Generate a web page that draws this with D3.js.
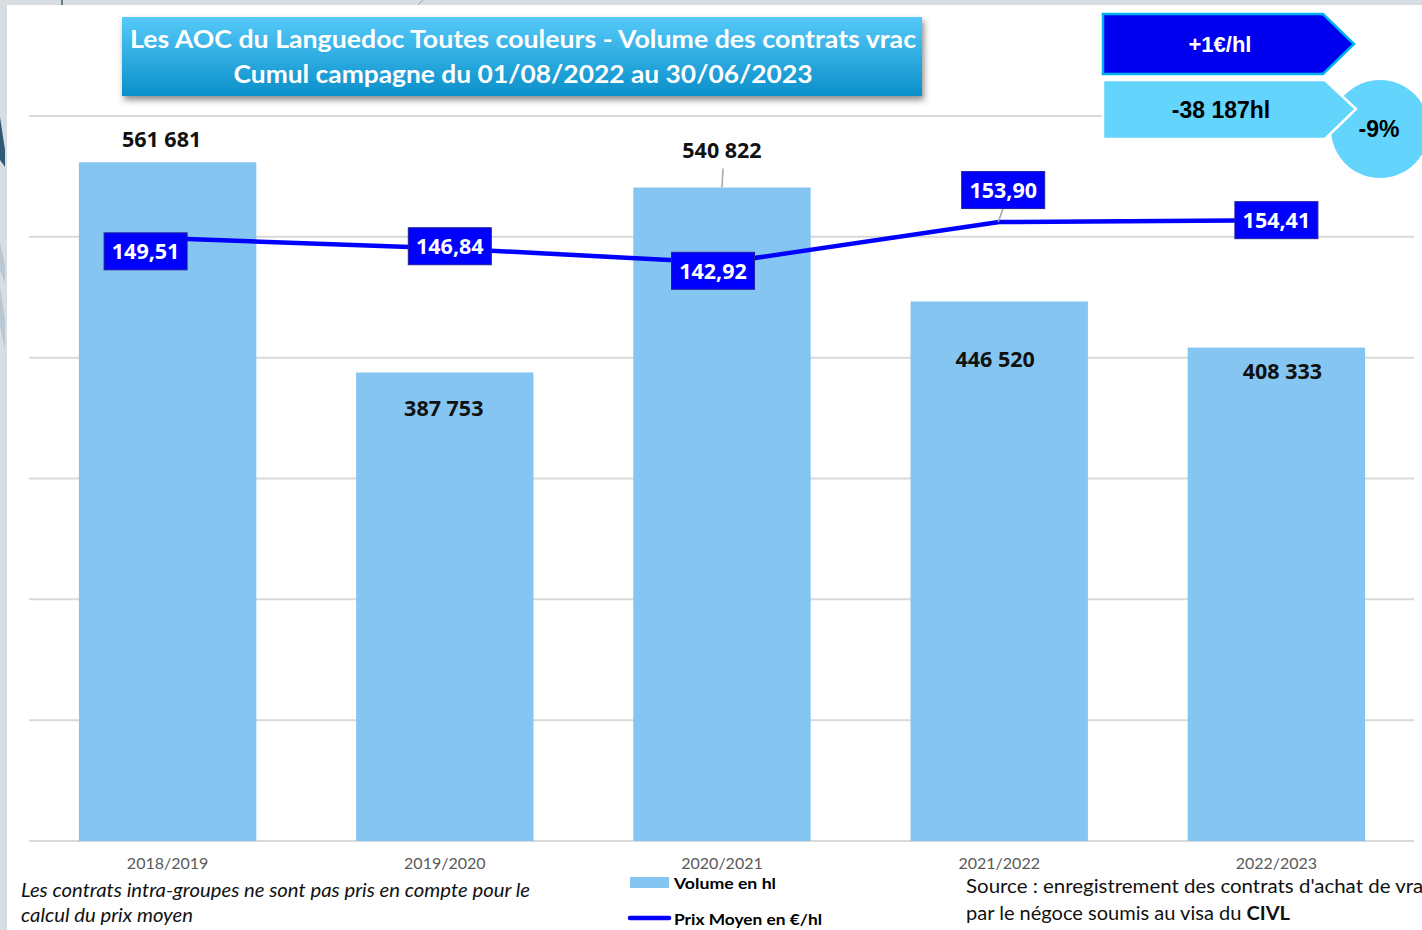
<!DOCTYPE html>
<html><head><meta charset="utf-8">
<script src="https://cdn.jsdelivr.net/npm/d3@7"></script>
<style>body{margin:0;background:#fff;overflow:hidden} svg{display:block}</style>
</head><body><svg id="c" width="1422" height="930"></svg>
<script>
// ---------- data ----------
const categories = ["2018/2019", "2019/2020", "2020/2021", "2021/2022", "2022/2023"];
const volumes = [561681, 387753, 540822, 446520, 408333];
const prices = [149.51, 146.84, 142.92, 153.90, 154.41];
const volumeTicks = [0, 100000, 200000, 300000, 400000, 500000, 600000];
const titleLines = ["Les AOC du Languedoc Toutes couleurs - Volume des contrats vrac",
                    "Cumul campagne du 01/08/2022 au 30/06/2023"];
const legendLabels = ["Volume en hl", "Prix Moyen en €/hl"];
const priceDelta = "+1€/hl";
const volumeDelta = "-38 187hl";
const volumeDeltaPct = "-9%";
const noteLines = ["Les contrats intra-groupes ne sont pas pris en compte pour le", "calcul du prix moyen"];

// ---------- layout (not data) ----------
const volNudge = [[-6, -23], [-1, 36], [0, -37], [-4, 58], [6, 24]];
const priceNudge = [[-22, 13], [5, -2], [-9, 8], [4, -32], [0, 0]];

const svg = d3.select("#c");
const fr = d3.formatLocale({decimal: ",", thousands: " ", grouping: [3], currency: ["", "€"]});
const fmtVol = fr.format(",d");
const fmtPrice = fr.format(".2f");

const defs = svg.append("defs");
const g1 = defs.append("linearGradient").attr("id", "tg").attr("x1", 0).attr("y1", 0).attr("x2", 0).attr("y2", 1);
g1.append("stop").attr("offset", "0%").attr("stop-color", "#56caf9");
g1.append("stop").attr("offset", "100%").attr("stop-color", "#0a8fc9");
const f = defs.append("filter").attr("id", "sh").attr("x", "-5%").attr("y", "-20%").attr("width", "115%").attr("height", "150%");
f.append("feDropShadow").attr("dx", 2).attr("dy", 4).attr("stdDeviation", 3).attr("flood-color", "#000").attr("flood-opacity", 0.45);

// background frame
svg.append("rect").attr("width", 1422).attr("height", 930).attr("fill", "#d7dde1");
svg.append("rect").attr("x", 7).attr("y", 5).attr("width", 1415).attr("height", 925).attr("fill", "#ffffff");
svg.append("line").attr("x1", 62).attr("x2", 62).attr("y1", 0).attr("y2", 5).attr("stroke", "#3d5a6e").attr("stroke-width", 1.5);
svg.append("line").attr("x1", 418).attr("x2", 423).attr("y1", 5).attr("y2", 0).attr("stroke", "#9aa8b2").attr("stroke-width", 1);
svg.append("polygon").attr("points", "0,117 5,150 5,167 0,160").attr("fill", "#2f5a76");
svg.append("polygon").attr("points", "0,243 5,265 5,283 0,270").attr("fill", "#b8c7d1");
svg.append("polygon").attr("points", "0,287 5,320 5,350 0,325").attr("fill", "#b8c7d1");

// scales
const x = d3.scaleBand().domain(categories).range([29, 1415]).paddingInner(0.36).paddingOuter(0.18);
const y = d3.scaleLinear().domain([0, 600000]).range([841, 116]);
const y2 = d3.scaleLinear().domain([-13, 182.5]).range([841, 116]);

// gridlines
svg.append("g").selectAll("line").data(volumeTicks).join("line")
  .attr("x1", 29).attr("x2", 1414).attr("y1", d => y(d)).attr("y2", d => y(d))
  .attr("stroke", "#d9d9d9").attr("stroke-width", 2);

// bars
svg.append("g").selectAll("rect").data(volumes).join("rect")
  .attr("x", (d, i) => x(categories[i])).attr("width", x.bandwidth())
  .attr("y", d => y(d)).attr("height", d => y(0) - y(d))
  .attr("fill", "#85c5f2");

// x-axis labels
const xAxis = svg.append("g").attr("transform", "translate(0,841)")
  .call(d3.axisBottom(x).tickSize(0).tickPadding(17));
xAxis.select(".domain").remove();
xAxis.selectAll("text").attr("font-family", "Lato, sans-serif").attr("font-size", 16).attr("fill", "#595959");

// volume labels
const cx = i => x(categories[i]) + x.bandwidth() / 2;
svg.append("line").attr("x1", cx(2) + 1).attr("x2", cx(2)).attr("y1", y(volumes[2]) + volNudge[2][1] + 18).attr("y2", y(volumes[2]))
  .attr("stroke", "#a6a6a6").attr("stroke-width", 1.5);
svg.append("g").selectAll("text").data(volumes).join("text")
  .attr("x", (d, i) => cx(i) + volNudge[i][0]).attr("y", (d, i) => y(d) + volNudge[i][1])
  .attr("dy", "0.36em").attr("text-anchor", "middle")
  .attr("font-family", "Open Sans, sans-serif").attr("font-weight", 700).attr("font-size", 21.5)
  .attr("fill", "#111").text(d => fmtVol(d));

// price line
const line = d3.line().x((d, i) => cx(i)).y(d => y2(d));
svg.append("path").datum(prices).attr("d", line).attr("fill", "none")
  .attr("stroke", "#0000ff").attr("stroke-width", 4.5).attr("stroke-linejoin", "round");

// leader for 153,90
svg.append("line").attr("x1", cx(3) - 1).attr("y1", y2(prices[3])).attr("x2", cx(3) + priceNudge[3][0]).attr("y2", y2(prices[3]) + priceNudge[3][1] + 18)
  .attr("stroke", "#a6a6a6").attr("stroke-width", 1.5);

// price labels
const pl = svg.append("g").selectAll("g").data(prices).join("g")
  .attr("transform", (d, i) => `translate(${cx(i) + priceNudge[i][0]},${y2(d) + priceNudge[i][1]})`);
pl.append("rect").attr("x", -41.5).attr("y", -18.5).attr("width", 83).attr("height", 37)
  .attr("fill", "#0000ff").attr("stroke", "#2020a0").attr("stroke-width", 1);
pl.append("text").attr("text-anchor", "middle").attr("dy", "0.36em")
  .attr("font-family", "Open Sans, sans-serif").attr("font-weight", 700).attr("font-size", 21.5)
  .attr("fill", "#fff").text(d => fmtPrice(d));

// title box
const tb = svg.append("g");
tb.append("rect").attr("x", 122).attr("y", 17).attr("width", 800).attr("height", 79)
  .attr("fill", "url(#tg)").attr("filter", "url(#sh)");
tb.selectAll("text").data(titleLines).join("text")
  .attr("x", 523).attr("y", (d, i) => 48 + i * 35).attr("text-anchor", "middle")
  .attr("textLength", (d, i) => [786, 579][i]).attr("lengthAdjust", "spacingAndGlyphs")
  .attr("font-family", "Lato, sans-serif").attr("font-weight", 700).attr("font-size", 25)
  .attr("fill", "#fff").text(d => d);

// top-right callouts
svg.append("circle").attr("cx", 1380).attr("cy", 129).attr("r", 49).attr("fill", "#63d4fb");
svg.append("polygon").attr("points", "1103,80 1325,80 1356,109 1325,139 1103,139")
  .attr("fill", "#63d4fb").attr("stroke", "#ffffff").attr("stroke-width", 2.5);
svg.append("polygon").attr("points", "1103,14 1323,14 1354,44 1323,74 1103,74")
  .attr("fill", "#0000ee").attr("stroke", "#00b0f0").attr("stroke-width", 2.5);
svg.append("text").attr("x", 1220).attr("y", 44).attr("dy", "0.36em").attr("text-anchor", "middle")
  .attr("font-family", "Liberation Sans, Arial, sans-serif").attr("font-weight", 700).attr("font-size", 22)
  .attr("fill", "#fff").text(priceDelta);
svg.append("text").attr("x", 1221).attr("y", 110).attr("dy", "0.36em").attr("text-anchor", "middle")
  .attr("font-family", "Liberation Sans, Arial, sans-serif").attr("font-weight", 700).attr("font-size", 23)
  .attr("fill", "#000").text(volumeDelta);
svg.append("text").attr("x", 1379).attr("y", 129).attr("dy", "0.36em").attr("text-anchor", "middle")
  .attr("font-family", "Liberation Sans, Arial, sans-serif").attr("font-weight", 700).attr("font-size", 23)
  .attr("fill", "#000").text(volumeDeltaPct);

// legend
const lg = svg.append("g");
lg.append("rect").attr("x", 630).attr("y", 877).attr("width", 39).attr("height", 11).attr("fill", "#85c5f2");
lg.append("line").attr("x1", 630).attr("x2", 669).attr("y1", 918).attr("y2", 918)
  .attr("stroke", "#0000ff").attr("stroke-width", 4.5).attr("stroke-linecap", "round");
lg.selectAll("text").data(legendLabels).join("text")
  .attr("x", 674).attr("y", (d, i) => 883 + i * 36).attr("dy", "0.36em")
  .attr("textLength", (d, i) => [102, 148][i]).attr("lengthAdjust", "spacingAndGlyphs")
  .attr("font-family", "Lato, sans-serif").attr("font-weight", 700).attr("font-size", 16)
  .attr("fill", "#000").text(d => d);

// notes
svg.append("g").selectAll("text").data(noteLines).join("text")
  .attr("x", 21).attr("y", (d, i) => 890 + i * 25).attr("dy", "0.36em")
  .attr("textLength", (d, i) => [509, 172][i]).attr("lengthAdjust", "spacingAndGlyphs")
  .attr("font-family", "Lato, sans-serif").attr("font-style", "italic").attr("font-size", 18.5)
  .attr("fill", "#111").text(d => d);

const s1 = svg.append("text").attr("x", 966).attr("y", 886).attr("dy", "0.36em")
  .attr("textLength", 467).attr("lengthAdjust", "spacingAndGlyphs")
  .attr("font-family", "Lato, sans-serif").attr("font-size", 19.5).attr("fill", "#111")
  .text("Source : enregistrement des contrats d'achat de vrac");
const s2 = svg.append("text").attr("x", 966).attr("y", 913).attr("dy", "0.36em")
  .attr("textLength", 324).attr("lengthAdjust", "spacingAndGlyphs")
  .attr("font-family", "Lato, sans-serif").attr("font-size", 19.5).attr("fill", "#111");
s2.append("tspan").text("par le négoce soumis au visa du ");
s2.append("tspan").attr("font-weight", 700).text("CIVL");
</script></body></html>
